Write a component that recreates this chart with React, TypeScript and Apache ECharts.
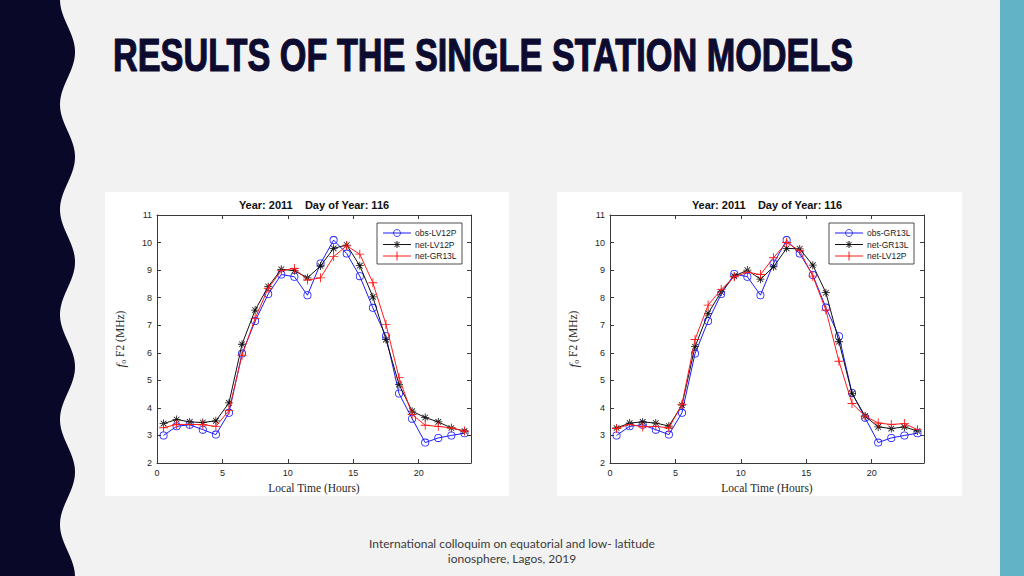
import React, { useEffect, useRef } from "react";
import * as echarts from "echarts";

const hours = [0.5, 1.5, 2.5, 3.5, 4.5, 5.5, 6.5, 7.5, 8.5, 9.5, 10.5, 11.5, 12.5, 13.5, 14.5, 15.5, 16.5, 17.5, 18.5, 19.5, 20.5, 21.5, 22.5, 23.5];

// left panel
const obsLV12P = [3.0, 3.33, 3.39, 3.21, 3.03, 3.82, 5.97, 7.15, 8.13, 8.84, 8.76, 8.09, 9.24, 10.09, 9.6, 8.78, 7.63, 6.6, 4.52, 3.61, 2.74, 2.91, 3.0, 3.08];
const netLV12P_left = [3.43, 3.58, 3.49, 3.47, 3.53, 4.18, 6.31, 7.55, 8.4, 9.03, 8.98, 8.72, 9.15, 9.79, 9.91, 9.16, 8.03, 6.48, 4.85, 3.88, 3.65, 3.49, 3.27, 3.16];
const netGR13L_left = [3.28, 3.4, 3.4, 3.39, 3.33, 3.91, 5.91, 7.25, 8.34, 8.98, 9.06, 8.64, 8.72, 9.49, 9.88, 9.58, 8.54, 7.03, 5.1, 3.76, 3.37, 3.33, 3.27, 3.16];

// right panel
const obsGR13L = [3.0, 3.33, 3.39, 3.21, 3.03, 3.82, 5.97, 7.15, 8.13, 8.86, 8.76, 8.09, 9.24, 10.09, 9.6, 8.82, 7.64, 6.6, 4.54, 3.64, 2.74, 2.91, 3.0, 3.08];
const netGR13L_right = [3.27, 3.45, 3.49, 3.45, 3.34, 4.1, 6.22, 7.43, 8.21, 8.78, 9.0, 8.67, 9.12, 9.79, 9.77, 9.18, 8.18, 6.4, 4.52, 3.7, 3.31, 3.25, 3.31, 3.16];
const netLV12P_right = [3.25, 3.4, 3.31, 3.33, 3.27, 4.13, 6.48, 7.73, 8.3, 8.76, 8.92, 8.84, 9.45, 10.0, 9.7, 8.78, 7.55, 5.69, 4.16, 3.7, 3.45, 3.4, 3.43, 3.21];

const leftLegend = ["obs-LV12P", "net-LV12P", "net-GR13L"];
const rightLegend = ["obs-GR13L", "net-GR13L", "net-LV12P"];

const titleText = "RESULTS OF THE SINGLE STATION MODELS";
const panelTitle = "Year: 2011    Day of Year: 116";
const footer1 = "International colloquim on equatorial and low- latitude";
const footer2 = "ionosphere, Lagos, 2019";

const PLUS = "path://M4.5,0H5.5V10H4.5ZM0,4.5H10V5.5H0Z";
const STAR =
  "path://M4.5,0H5.5V10H4.5ZM0,4.5H10V5.5H0ZM1.15,1.85L1.85,1.15L8.85,8.15L8.15,8.85ZM8.15,1.15L8.85,1.85L1.85,8.85L1.15,8.15Z";
const RING = "path://M0,5A5,5 0 1,0 10,5A5,5 0 1,0 0,5ZM1,5A4,4 0 1,1 9,5A4,4 0 1,1 1,5Z";

const BLUE = "#1a1aff";
const BLACK = "#111111";
const RED = "#ff1a1a";
const AXIS = "#3a3a3a";
const SANS = "'Liberation Sans', Arial, sans-serif";
const SERIF = "'Liberation Serif', 'Times New Roman', serif";
const TITLE_FONT = "'Liberation Sans', Arial, sans-serif";
const TITLE_SIZE = 47;
const TITLE_WIDTH = 740;

function pair(ys: number[]) {
  return hours.map((h, i) => [h, ys[i]]);
}

function legendGraphic(x0: number, names: string[]) {
  const els: any[] = [];
  els.push({
    type: "rect",
    shape: { x: x0, y: 223, width: 85, height: 41 },
    style: { fill: "#ffffff", stroke: "#222", lineWidth: 0.8 },
  });
  const colors = [BLUE, BLACK, RED];
  const ys = [233, 244.5, 256];
  names.forEach((n, i) => {
    const y = ys[i];
    const lx1 = x0 + 6;
    const lx2 = x0 + 34;
    const cx = (lx1 + lx2) / 2;
    els.push({ type: "line", shape: { x1: lx1, y1: y, x2: lx2, y2: y }, style: { stroke: colors[i], lineWidth: 1 } });
    if (i === 0) {
      els.push({ type: "circle", shape: { cx, cy: y, r: 3.5 }, style: { fill: "none", stroke: BLUE, lineWidth: 0.8 } });
    } else if (i === 1) {
      const r = 3.5;
      els.push({ type: "line", shape: { x1: cx - r, y1: y, x2: cx + r, y2: y }, style: { stroke: BLACK, lineWidth: 1 } });
      els.push({ type: "line", shape: { x1: cx, y1: y - r, x2: cx, y2: y + r }, style: { stroke: BLACK, lineWidth: 1 } });
      els.push({ type: "line", shape: { x1: cx - 2.6, y1: y - 2.6, x2: cx + 2.6, y2: y + 2.6 }, style: { stroke: BLACK, lineWidth: 1 } });
      els.push({ type: "line", shape: { x1: cx - 2.6, y1: y + 2.6, x2: cx + 2.6, y2: y - 2.6 }, style: { stroke: BLACK, lineWidth: 1 } });
    } else {
      const r = 4.5;
      els.push({ type: "line", shape: { x1: cx, y1: y - r, x2: cx, y2: y + r }, style: { stroke: RED, lineWidth: 1 } });
    }
    els.push({
      type: "text",
      x: x0 + 38,
      y,
      style: { text: n, fontFamily: SANS, fontSize: 8.5, fill: "#222", verticalAlign: "middle", align: "left" },
    });
  });
  return els;
}

function wavePoints() {
  const pts: number[][] = [[0, 0]];
  for (let y = 0; y <= 576; y += 2) {
    pts.push([67.5 + 7.5 * Math.cos((2 * Math.PI * (y - 52)) / 105), y]);
  }
  pts.push([0, 576]);
  return pts;
}

function xAxes(gridIndex: number) {
  const common = {
    type: "value",
    gridIndex,
    min: 0,
    max: 24,
    interval: 5,
    splitLine: { show: false },
    axisLine: { show: true, onZero: false, lineStyle: { color: AXIS, width: 1 } },
    axisTick: { show: true, inside: true, length: 4, lineStyle: { color: AXIS } },
  };
  return [
    {
      ...common,
      position: "bottom",
      axisLabel: { show: true, showMaxLabel: false, color: "#262626", fontFamily: SANS, fontSize: 9, margin: 5 },
      name: "Local Time (Hours)",
      nameLocation: "middle",
      nameGap: 19,
      nameTextStyle: { fontFamily: SERIF, fontSize: 11.5, color: "#262626" },
    },
    { ...common, position: "top", axisLabel: { show: false } },
  ];
}

function yAxes(gridIndex: number) {
  const common = {
    type: "value",
    gridIndex,
    min: 2,
    max: 11,
    interval: 1,
    splitLine: { show: false },
    axisLine: { show: true, onZero: false, lineStyle: { color: AXIS, width: 1 } },
    axisTick: { show: true, inside: true, length: 4, lineStyle: { color: AXIS } },
  };
  return [
    {
      ...common,
      position: "left",
      axisLabel: { show: true, color: "#262626", fontFamily: SANS, fontSize: 9, margin: 5 },
      name: "{i|f}{s|o}{n| F2 (MHz)}",
      nameLocation: "middle",
      nameGap: 30,
      nameRotate: 90,
      nameTextStyle: {
        color: "#262626",
        rich: {
          i: { fontFamily: SERIF, fontStyle: "italic", fontSize: 13, color: "#262626" },
          s: { fontFamily: SERIF, fontSize: 8, color: "#262626", padding: [6, 0, 0, 0] },
          n: { fontFamily: SERIF, fontSize: 11.5, color: "#262626" },
        },
      },
    },
    { ...common, position: "right", axisLabel: { show: false } },
  ];
}

function lineSeries(name: string, ys: number[], idx: number, kind: number) {
  const color = [BLUE, BLACK, RED][kind];
  const symbol = [RING, STAR, PLUS][kind];
  const size = [8, 8, 9][kind];
  return {
    type: "line",
    name,
    xAxisIndex: idx * 2,
    yAxisIndex: idx * 2,
    data: pair(ys),
    symbol,
    symbolSize: size,
    showAllSymbol: true,
    lineStyle: { color, width: 1 },
    itemStyle: { color, borderWidth: 0 },
    emphasis: { disabled: true },
    z: 2 + kind,
  };
}

function measureTitle(): number {
  try {
    const c = document.createElement("canvas").getContext("2d");
    if (!c) return 1;
    c.font = `bold ${TITLE_SIZE}px ${TITLE_FONT}`;
    const w = c.measureText(titleText).width;
    return w > 0 ? TITLE_WIDTH / w : 1;
  } catch (e) {
    return 1;
  }
}

export default function App() {
  const ref = useRef<HTMLDivElement>(null);
  useEffect(() => {
    if (!ref.current) return;
    const chart = echarts.init(ref.current, undefined, { renderer: "svg" });
    const sx = measureTitle();
    const option: any = {
      animation: false,
      backgroundColor: "#f2f2f2",
      grid: [
        { left: 157, top: 215, width: 314, height: 248 },
        { left: 610, top: 215, width: 314, height: 248 },
      ],
      xAxis: [...xAxes(0), ...xAxes(1)],
      yAxis: [...yAxes(0), ...yAxes(1)],
      series: [
        lineSeries(leftLegend[0], obsLV12P, 0, 0),
        lineSeries(leftLegend[1], netLV12P_left, 0, 1),
        lineSeries(leftLegend[2], netGR13L_left, 0, 2),
        lineSeries(rightLegend[0], obsGR13L, 1, 0),
        lineSeries(rightLegend[1], netGR13L_right, 1, 1),
        lineSeries(rightLegend[2], netLV12P_right, 1, 2),
      ],
      graphic: [
        { type: "rect", z: -10, shape: { x: 105, y: 192, width: 404, height: 304 }, style: { fill: "#ffffff" } },
        { type: "rect", z: -10, shape: { x: 557, y: 192, width: 405, height: 304 }, style: { fill: "#ffffff" } },
        { type: "polygon", shape: { points: wavePoints() }, style: { fill: "#0a0828" } },
        { type: "rect", shape: { x: 1000, y: 0, width: 24, height: 576 }, style: { fill: "#62b3c5" } },
        {
          type: "text",
          x: 113,
          y: 55,
          scaleX: sx,
          style: {
            text: titleText,
            fontFamily: TITLE_FONT,
            fontWeight: "bold",
            fontSize: TITLE_SIZE,
            fill: "#0d0b30",
            stroke: "#0d0b30",
            lineWidth: 1.2,
            verticalAlign: "middle",
            align: "left",
          },
        },
        {
          type: "text",
          x: 314,
          y: 205,
          style: { text: panelTitle, fontFamily: SANS, fontWeight: "bold", fontSize: 11, fill: "#111", align: "center", verticalAlign: "middle" },
        },
        {
          type: "text",
          x: 767,
          y: 205,
          style: { text: panelTitle, fontFamily: SANS, fontWeight: "bold", fontSize: 11, fill: "#111", align: "center", verticalAlign: "middle" },
        },
        ...legendGraphic(377, leftLegend),
        ...legendGraphic(829, rightLegend),
        {
          type: "text",
          x: 512,
          y: 543,
          style: { text: footer1, fontFamily: "Lato, 'Open Sans', sans-serif", fontSize: 12, fill: "#3a3a3a", align: "center", verticalAlign: "middle" },
        },
        {
          type: "text",
          x: 512,
          y: 558,
          style: { text: footer2, fontFamily: "Lato, 'Open Sans', sans-serif", fontSize: 12, fill: "#3a3a3a", align: "center", verticalAlign: "middle" },
        },
      ],
    };
    chart.setOption(option);
    return () => chart.dispose();
  }, []);
  return (
    <div
      ref={ref}
      style={{ position: "absolute", left: 0, top: 0, width: 1024, height: 576 }}
    />
  );
}
